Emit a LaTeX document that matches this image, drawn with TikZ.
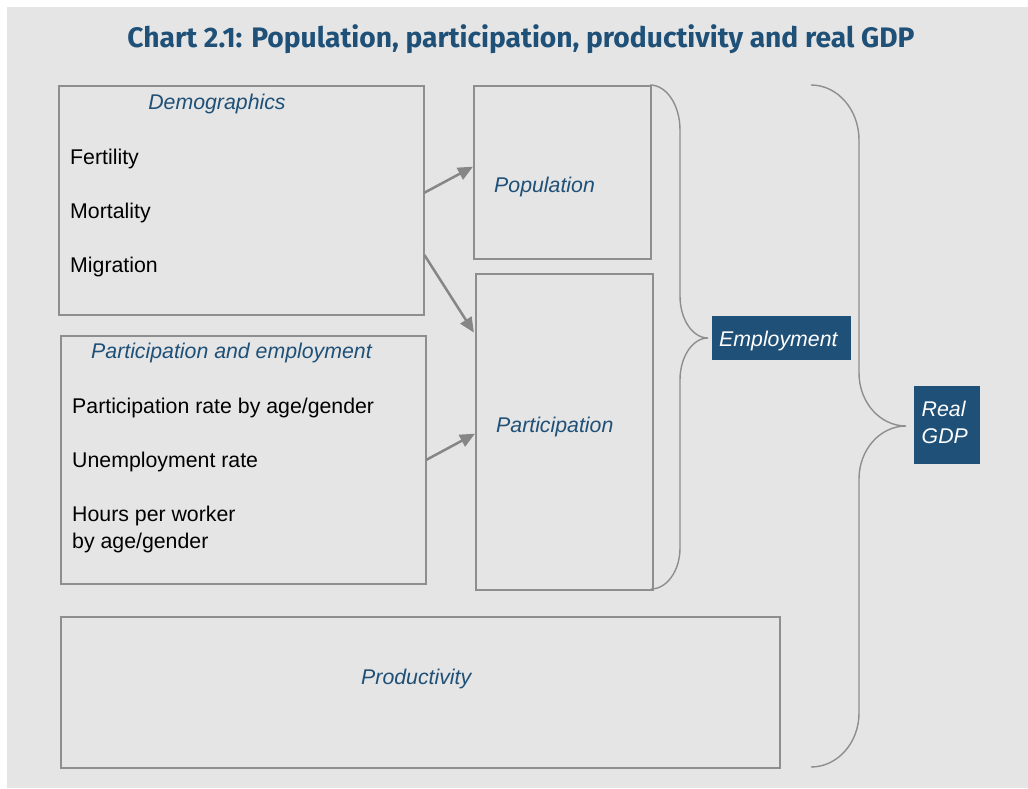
\documentclass[tikz,border=0pt]{standalone}
\usepackage{fontspec}
\setmainfont{Liberation Sans}
\newfontfamily\titlefont{Fira Sans}
\usetikzlibrary{arrows.meta,calc}
\definecolor{bgc}{HTML}{E5E5E5}
\definecolor{linec}{HTML}{8E8E8E}
\definecolor{arrc}{HTML}{868686}
\definecolor{bluec}{HTML}{1F5077}
\begin{document}
\begin{tikzpicture}[x=1pt,y=-1pt,
  box/.style={draw=linec, line width=1.5pt, fill=none, inner sep=0pt, anchor=north west},
  darkbox/.style={fill=bluec, draw=none, inner sep=0pt, anchor=north west},
  lbl/.style={inner sep=0pt, anchor=base west, font=\fontsize{21.3}{27}\selectfont},
  bluelbl/.style={lbl, text=bluec, font=\fontsize{21.3}{27}\selectfont\itshape},
  whitelbl/.style={lbl, text=white, font=\fontsize{21.3}{27}\selectfont\itshape},
  arr/.style={draw=arrc, line width=2.5pt, -{Triangle[length=15pt,width=13pt]}},
  brace/.style={draw=linec, line width=1.4pt}]
\useasboundingbox (0,0) rectangle (1028,788);
\fill[white] (0,0) rectangle (1028,788);
\fill[bgc] (7,7) rectangle (1028,788);

\node[inner sep=0pt, anchor=base, text=bluec, font=\titlefont\bfseries\fontsize{28.2}{32}\selectfont] (title) at (521,47) {Chart 2.1: Population, participation, productivity and real GDP};

% boxes
\node[box, minimum width=365pt, minimum height=229pt] (demo) at (58,85) {};
\node[box, minimum width=177pt, minimum height=173pt] (pop) at (473,85) {};
\node[box, minimum width=177pt, minimum height=316pt] (part) at (475,273) {};
\node[box, minimum width=365pt, minimum height=248pt] (pe) at (60,335) {};
\node[box, minimum width=719pt, minimum height=151pt] (prod) at (60,616) {};
\node[darkbox, minimum width=139pt, minimum height=44pt] (emp) at (712,316) {};
\node[darkbox, minimum width=66pt, minimum height=78pt] (gdp) at (914,386) {};

% texts
\node[bluelbl, anchor=base] (tdemo) at (217,109) {Demographics};
\node[lbl] (tfert) at (70,164) {Fertility};
\node[lbl] (tmort) at (70,218) {Mortality};
\node[lbl] (tmigr) at (70,272) {Migration};
\node[bluelbl] (tpop) at (494,192) {Population};
\node[bluelbl] (tpe) at (91,358) {Participation and employment};
\node[lbl] (tprate) at (72,413) {Participation rate by age/gender};
\node[lbl] (tunemp) at (72,467) {Unemployment rate};
\node[lbl] (thours) at (72,521) {Hours per worker};
\node[lbl] (thours2) at (72,548) {by age/gender};
\node[bluelbl] (tpart) at (496,432) {Participation};
\node[bluelbl] (tprod) at (361,684) {Productivity};
\node[whitelbl] (temp) at (719,346) {Employment};
\node[whitelbl] (treal) at (921.5,416) {Real};
\node[whitelbl] (tgdp) at (921.5,443) {GDP};

% arrows
\draw[arr] ($(demo.north east)!0.467!(demo.south east)$) -- ($(pop.north west)!0.468!(pop.south west)$);
\draw[arr, shorten >=2pt] ($(demo.north east)!0.738!(demo.south east)$) -- ($(part.north west)!0.193!(part.south west)$);
\draw[arr] (pe.east) -- ($(part.north west)!0.506!(part.south west)$);

% braces
\draw[brace] (650,85) .. controls (666.6,85) and (680,105.1) .. (680,130)
  -- (680,296) .. controls (680,319.2) and (692.5,338) .. (708,338)
  .. controls (692.5,338) and (680,356.8) .. (680,380)
  -- (680,548) .. controls (680,570.6) and (667,589) .. (651,589);
\draw[brace] (811,85) .. controls (837.5,85) and (859,109.6) .. (859,140)
  -- (859,373) .. controls (859,402.3) and (880,426) .. (906,426)
  .. controls (880,426) and (859,449.7) .. (859,479)
  -- (859,713) .. controls (859,742.8) and (837.5,767) .. (811,767);
\end{tikzpicture}
\end{document}
